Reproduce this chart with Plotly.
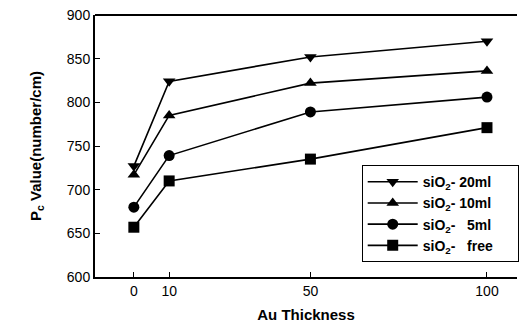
import plotly.graph_objects as go

au_thickness = [0, 10, 50, 100]
sio2_20ml = [727, 824, 852, 870]
sio2_10ml = [717, 785, 822, 836]
sio2_5ml = [680, 739, 789, 806]
sio2_free = [657, 710, 735, 771]

pad = "&nbsp;" * 5
series = [
    ("siO<sub>2</sub>- 20ml" + pad, sio2_20ml, "triangle-down"),
    ("siO<sub>2</sub>- 10ml" + pad, sio2_10ml, "triangle-up"),
    ("siO<sub>2</sub>-&nbsp;&nbsp; 5ml" + pad, sio2_5ml, "circle"),
    ("siO<sub>2</sub>-&nbsp;&nbsp; free" + pad, sio2_free, "square"),
]

x_ticks = [0, 10, 50, 100]
y_ticks = [600, 650, 700, 750, 800, 850, 900]

fig = go.Figure()
for name, vals, sym in series:
    fig.add_trace(go.Scatter(
        x=au_thickness, y=vals, name=name, mode="lines+markers",
        line=dict(color="black", width=1.6),
        marker=dict(symbol=sym, size=11, color="black"),
    ))

font_family = "Liberation Sans, Arial, sans-serif"
fig.update_layout(
    width=519, height=327,
    margin=dict(l=95, r=0, t=15, b=50),
    paper_bgcolor="white", plot_bgcolor="white",
    font=dict(family=font_family, color="black", size=14),
    showlegend=True,
    legend=dict(
        x=0.632, y=0.427, xanchor="left", yanchor="top",
        bordercolor="black", borderwidth=1, bgcolor="white",
        font=dict(family=font_family, size=14, weight="bold"),
        tracegroupgap=0, itemwidth=50,
    ),
    xaxis=dict(
        range=[-11, 108.5], tickvals=x_ticks, ticktext=[str(v) for v in x_ticks],
        showgrid=False, zeroline=False, showline=True, linecolor="black", linewidth=2,
        ticks="inside", ticklen=5, tickcolor="black", automargin=False,
        title=dict(text="<b>Au Thickness</b>", font=dict(size=15), standoff=12),
        tickfont=dict(size=14),
    ),
    yaxis=dict(
        range=[600, 900], tickvals=y_ticks,
        showgrid=False, zeroline=False, showline=True, linecolor="black", linewidth=2,
        ticks="inside", ticklen=5, tickcolor="black", automargin=False,
        title=dict(text="<b>P<sub>c</sub> Value(number/cm)</b>", font=dict(size=15), standoff=22),
        tickfont=dict(size=14),
    ),
    shapes=[dict(type="line", xref="paper", yref="paper", x0=0, x1=1, y0=1, y1=1,
                 line=dict(color="black", width=2))],
)

fig.write_html("out.html", config={"displayModeBar": False},
               post_script="document.body.style.margin='0';document.body.style.overflow='hidden';")
